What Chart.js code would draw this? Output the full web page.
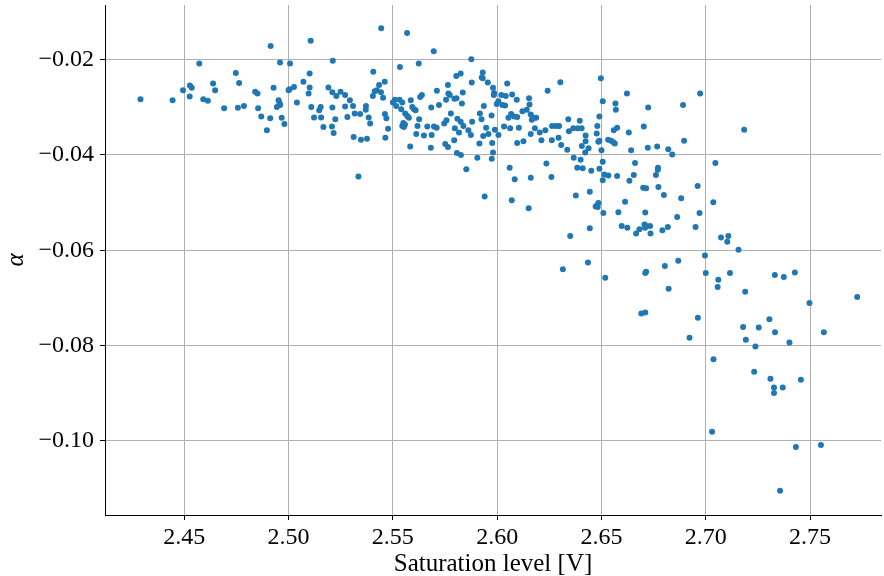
<!DOCTYPE html>
<html>
<head>
<meta charset="utf-8">
<script src="https://cdn.jsdelivr.net/npm/chart.js@4.4.1/dist/chart.umd.min.js"></script>
<style>
  body { margin: 0; background: #fff; }
  #wrap { width: 884px; height: 576px; }
</style>
</head>
<body>
<div id="wrap"><canvas id="myChart" width="884" height="576"></canvas></div>
<script>
// saturation level [V] per point (grouped left to right)
var saturation = [
  2.429, 2.4444, 2.4494, 2.4527, 2.4536, 2.4526, 2.4572, 2.4591, 2.4613, 2.4638,
  2.4648, 2.4691, 2.4747, 2.4763, 2.4757, 2.4786, 2.4840, 2.4851, 2.4854, 2.4869,
  2.4896, 2.4914, 2.4928, 2.4912, 2.4952, 2.4956, 2.4960, 2.4944, 2.4959, 2.4967,
  2.4980, 2.5007, 2.5005, 2.5000, 2.5026,
  2.5106, 2.5444, 2.5568, 2.5696, 2.5212, 2.5624, 2.5534, 2.5406, 2.5101, 2.5071,
  2.5101, 2.5096, 2.5040, 2.5109, 2.5147, 2.5154, 2.5122, 2.5156, 2.5167, 2.5191,
  2.5210, 2.5229, 2.5249, 2.5210, 2.5224, 2.5208, 2.5216, 2.5271, 2.5294, 2.5271,
  2.5282, 2.5309, 2.5317, 2.5343, 2.5312, 2.5347, 2.5376, 2.5371, 2.5370, 2.5384,
  2.5391, 2.5404, 2.5413, 2.5423, 2.5434, 2.5461, 2.5443, 2.5453, 2.5462, 2.5469,
  2.5477, 2.5464, 2.5500, 2.5510, 2.5516, 2.5532, 2.5545, 2.5540, 2.5559, 2.5569,
  2.5577, 2.5586, 2.5550, 2.5545, 2.5553, 2.5558, 2.5593, 2.5601, 2.5609, 2.5631,
  2.5639, 2.5626, 2.5618, 2.5612, 2.5583, 2.5649, 2.5665, 2.5684, 2.5686, 2.5682,
  2.5697, 2.5710, 2.5711, 2.5721, 2.5335,
  2.5876, 2.6303, 2.6242, 2.5804, 2.5825, 2.5931, 2.5926, 2.5931, 2.5878, 2.5764,
  2.5955, 2.5835, 2.5766, 2.5773, 2.5755, 2.5795, 2.5805, 2.5831, 2.5980, 2.5985,
  2.5984, 2.6048, 2.6020, 2.6041, 2.6072, 2.6006, 2.5998, 2.6025, 2.6038, 2.6094,
  2.6153, 2.6155, 2.5936, 2.5778, 2.5917, 2.5925, 2.5973, 2.6054, 2.6067, 2.6081,
  2.6096, 2.6121, 2.6142, 2.6161, 2.6166, 2.6177, 2.6187, 2.5757, 2.5746, 2.5809,
  2.5825, 2.5838, 2.5817, 2.5797, 2.5880, 2.5862, 2.5874, 2.5947, 2.5958, 2.5933,
  2.5989, 2.6006, 2.6033, 2.6062, 2.6104, 2.6181, 2.6161, 2.6204, 2.6231, 2.6263,
  2.6281, 2.6297, 2.6294, 2.6262, 2.6212, 2.6307, 2.6126, 2.6096, 2.5976, 2.5915,
  2.5794, 2.5751, 2.5764, 2.5807, 2.5826, 2.5980, 2.5974, 2.5905, 2.5852, 2.6060,
  2.6084, 2.6161, 2.6236, 2.6260, 2.5940, 2.6070, 2.6151,
  2.6497, 2.6622, 2.6506, 2.6567, 2.6569, 2.6724, 2.6490, 2.6341, 2.6396, 2.6480,
  2.6365, 2.6386, 2.6405, 2.6344, 2.6559, 2.6575, 2.6703, 2.6631, 2.6477, 2.6424,
  2.6485, 2.6490, 2.6532, 2.6546, 2.6557, 2.6564, 2.6424, 2.6406, 2.6438, 2.6336,
  2.6422, 2.6500, 2.6642, 2.6722, 2.6767, 2.6820, 2.6839, 2.6367, 2.6400, 2.6506,
  2.6661, 2.6384, 2.6410, 2.6490, 2.6451, 2.6771, 2.6770, 2.6514, 2.6533, 2.6575,
  2.6655, 2.6761, 2.6506, 2.6634, 2.6700, 2.6714, 2.6773, 2.6799, 2.6377, 2.6444,
  2.6613, 2.6485, 2.6479, 2.6482, 2.6472, 2.6509, 2.6581, 2.6710, 2.6597, 2.6624,
  2.6706, 2.6714, 2.6733, 2.6709, 2.6666, 2.6682, 2.6735, 2.6792, 2.6818, 2.6444,
  2.6350,
  2.6435, 2.6315, 2.6518, 2.6710, 2.6714, 2.6804, 2.6868, 2.6996, 2.7000, 2.7060,
  2.7057, 2.6822, 2.6691, 2.6710, 2.6962, 2.6922, 2.7037, 2.6973, 2.6891, 2.7184,
  2.6896, 2.7046, 2.6961, 2.6882, 2.7036, 2.6863, 2.6970, 2.6951, 2.7073, 2.7108,
  2.7103, 2.7157, 2.7116, 2.7189, 2.7305, 2.7179, 2.7254, 2.7332, 2.7192, 2.7238,
  2.7401, 2.7232, 2.7310, 2.7327, 2.7369, 2.7327, 2.7030, 2.7356, 2.7497, 2.7726,
  2.7566, 2.7456, 2.7432, 2.7552, 2.7331, 2.7374, 2.7427
];

// alpha per point, same order as saturation
var alpha = [
  -0.0283, -0.0285, -0.0264, -0.0254, -0.0259, -0.0277, -0.0208, -0.0283, -0.0286, -0.0250,
  -0.0264, -0.0302, -0.0228, -0.0249, -0.0301, -0.0297, -0.0267, -0.0271, -0.0302, -0.0319,
  -0.0348, -0.0171, -0.0259, -0.0323, -0.0285, -0.0290, -0.0295, -0.0299, -0.0206, -0.0322,
  -0.0335, -0.0208, -0.0262, -0.0264, -0.0257,
  -0.0160, -0.0134, -0.0144, -0.0182, -0.0202, -0.0208, -0.0215, -0.0225, -0.0229, -0.0246,
  -0.0258, -0.0271, -0.0290, -0.0299, -0.0306, -0.0299, -0.0321, -0.0321, -0.0341, -0.0258,
  -0.0268, -0.0276, -0.0267, -0.0300, -0.0325, -0.0340, -0.0354, -0.0274, -0.0285, -0.0298,
  -0.0320, -0.0297, -0.0313, -0.0314, -0.0362, -0.0368, -0.0366, -0.0297, -0.0305, -0.0321,
  -0.0334, -0.0276, -0.0266, -0.0264, -0.0253, -0.0246, -0.0268, -0.0280, -0.0314, -0.0323,
  -0.0345, -0.0364, -0.0290, -0.0284, -0.0297, -0.0284, -0.0290, -0.0304, -0.0313, -0.0318,
  -0.0322, -0.0285, -0.0333, -0.0339, -0.0341, -0.0336, -0.0299, -0.0304, -0.0306, -0.0278,
  -0.0274, -0.0325, -0.0339, -0.0356, -0.0382, -0.0359, -0.0340, -0.0300, -0.0358, -0.0385,
  -0.0340, -0.0343, -0.0265, -0.0295, -0.0445,
  -0.0199, -0.0247, -0.0265, -0.0234, -0.0229, -0.0227, -0.0237, -0.0239, -0.0248, -0.0253,
  -0.0248, -0.0269, -0.0271, -0.0274, -0.0284, -0.0282, -0.0281, -0.0292, -0.0259, -0.0270,
  -0.0274, -0.0250, -0.0274, -0.0276, -0.0273, -0.0287, -0.0293, -0.0295, -0.0296, -0.0284,
  -0.0281, -0.0294, -0.0297, -0.0313, -0.0313, -0.0325, -0.0317, -0.0322, -0.0314, -0.0319,
  -0.0320, -0.0308, -0.0305, -0.0315, -0.0326, -0.0322, -0.0322, -0.0327, -0.0334, -0.0324,
  -0.0330, -0.0339, -0.0353, -0.0344, -0.0330, -0.0348, -0.0358, -0.0343, -0.0356, -0.0360,
  -0.0347, -0.0358, -0.0340, -0.0344, -0.0343, -0.0344, -0.0356, -0.0353, -0.0348, -0.0339,
  -0.0339, -0.0339, -0.0364, -0.0369, -0.0369, -0.0379, -0.0371, -0.0375, -0.0375, -0.0376,
  -0.0369, -0.0377, -0.0383, -0.0396, -0.0400, -0.0395, -0.0408, -0.0406, -0.0430, -0.0427,
  -0.0451, -0.0448, -0.0418, -0.0446, -0.0487, -0.0495, -0.0512,
  -0.0239, -0.0271, -0.0287, -0.0292, -0.0305, -0.0300, -0.0319, -0.0325, -0.0328, -0.0339,
  -0.0344, -0.0344, -0.0344, -0.0350, -0.0348, -0.0343, -0.0340, -0.0353, -0.0355, -0.0359,
  -0.0372, -0.0370, -0.0368, -0.0370, -0.0373, -0.0376, -0.0371, -0.0381, -0.0386, -0.0389,
  -0.0395, -0.0390, -0.0390, -0.0385, -0.0382, -0.0388, -0.0399, -0.0406, -0.0410, -0.0414,
  -0.0417, -0.0427, -0.0428, -0.0429, -0.0433, -0.0427, -0.0431, -0.0441, -0.0443, -0.0444,
  -0.0442, -0.0442, -0.0453, -0.0454, -0.0469, -0.0470, -0.0467, -0.0484, -0.0485, -0.0477,
  -0.0498, -0.0501, -0.0506, -0.0509, -0.0508, -0.0522, -0.0520, -0.0521, -0.0549, -0.0553,
  -0.0546, -0.0549, -0.0549, -0.0553, -0.0565, -0.0556, -0.0565, -0.0558, -0.0551, -0.0554,
  -0.0570,
  -0.0626, -0.0640, -0.0658, -0.0648, -0.0645, -0.0633, -0.0622, -0.0611, -0.0648, -0.0662,
  -0.0677, -0.0681, -0.0733, -0.0731, -0.0742, -0.0784, -0.0829, -0.0271, -0.0295, -0.0347,
  -0.0370, -0.0417, -0.0465, -0.0491, -0.0499, -0.0530, -0.0522, -0.0551, -0.0573, -0.0570,
  -0.0582, -0.0599, -0.0648, -0.0687, -0.0745, -0.0761, -0.0762, -0.0772, -0.0788, -0.0802,
  -0.0794, -0.0855, -0.0870, -0.0888, -0.0888, -0.0900, -0.0981, -0.1105, -0.0711, -0.0698,
  -0.0772, -0.0872, -0.1013, -0.1009, -0.0652, -0.0656, -0.0647
];

var xTicks = [2.45, 2.50, 2.55, 2.60, 2.65, 2.70, 2.75];
var yTicks = [-0.10, -0.08, -0.06, -0.04, -0.02];

const points = saturation.map(function (s, i) {
  return { x: s, y: alpha[i] };
});

const serif = "'Liberation Serif', 'Times New Roman', serif";
const gridColor = "#b0b0b0";

const ctx = document.getElementById("myChart").getContext("2d");
const myChart = new Chart(ctx, {
  type: "scatter",
  data: {
    datasets: [
      {
        label: "alpha",
        data: points,
        backgroundColor: "#1f77b4",
        borderWidth: 0,
        pointRadius: 3,
        pointHoverRadius: 3,
      },
    ],
  },
  options: {
    responsive: false,
    animation: false,
    events: [],
    layout: { padding: { top: 5, right: 0, left: 0, bottom: 0 } },
    plugins: {
      legend: { display: false },
      tooltip: { enabled: false },
    },
    scales: {
      x: {
        type: "linear",
        min: 2.412,
        max: 2.784,
        afterBuildTicks: function (scale) {
          scale.ticks = xTicks.map(function (v) { return { value: v }; });
        },
        afterFit: function (scale) {
          scale.height = 61;
          scale.paddingLeft = 0;
          scale.paddingRight = 0;
        },
        ticks: {
          autoSkip: false,
          maxRotation: 0,
          padding: 3,
          color: "#000",
          font: { family: serif, size: 24 },
          callback: function (v) { return v.toFixed(2); },
        },
        grid: { color: gridColor, lineWidth: 1, tickColor: "#000", tickLength: 5 },
        border: { display: true, color: "#000", width: 1 },
        title: {
          display: true,
          text: "Saturation level [V]",
          color: "#000",
          font: { family: serif, size: 25 },
          padding: { top: 0, bottom: -3 },
        },
      },
      y: {
        type: "linear",
        min: -0.1156,
        max: -0.0085,
        afterBuildTicks: function (scale) {
          scale.ticks = yTicks.map(function (v) { return { value: v }; });
        },
        afterFit: function (scale) {
          scale.width = 105;
          scale.paddingTop = 0;
          scale.paddingBottom = 0;
        },
        ticks: {
          padding: 6,
          color: "#000",
          font: { family: serif, size: 24 },
          callback: function (v) { return (v < 0 ? "\u2212" : "") + Math.abs(v).toFixed(2); },
        },
        grid: { color: gridColor, lineWidth: 1, tickColor: "#000", tickLength: 5 },
        border: { display: true, color: "#000", width: 1 },
        title: {
          display: true,
          text: "\u03b1",
          color: "#000",
          font: { family: serif, size: 25, style: "italic" },
          padding: { top: 1, bottom: 0 },
        },
      },
    },
  },
});
</script>
</body>
</html>
